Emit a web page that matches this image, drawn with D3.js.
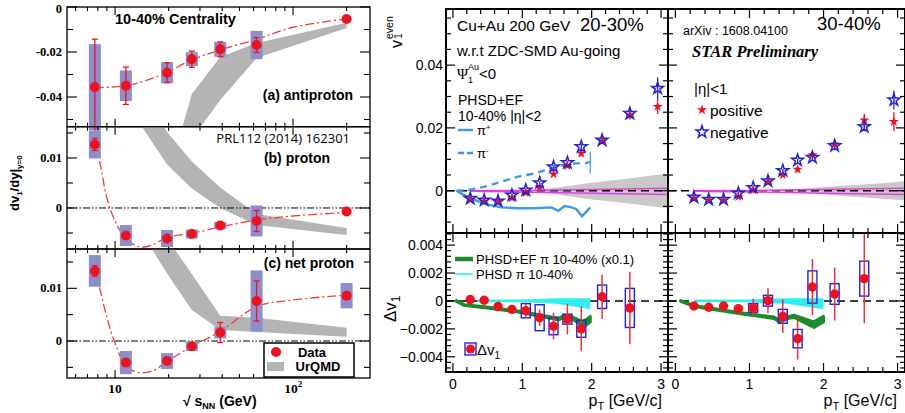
<!DOCTYPE html>
<html lang="en">
<head>
<meta charset="UTF-8">
<title>Directed flow: dv1/dy vs energy and v1 even in Cu+Au</title>
<script src="https://cdnjs.cloudflare.com/ajax/libs/d3/7.8.5/d3.min.js"></script>
<style>
  body { margin: 0; background: #fff; }
  svg { display: block; font-family: 'Liberation Sans', Arial, sans-serif; }
</style>
</head>
<body>
<svg id="chart" width="905" height="413"></svg>
<script>
// ---------- left figure: dv1/dy|y=0 vs sqrt(sNN)
const energies = [7.7, 11.5, 19.6, 27, 39, 62.4, 200];

const antiprotonVal  = [-0.0356, -0.0350, -0.0292, -0.0232, -0.0188, -0.0169, -0.0053];
const antiprotonStat = [0.0213, 0.0083, 0.0044, 0.0036, 0.0033, 0.0033, 0.0004];
const antiprotonSys  = [0.0191, 0.0068, 0.0047, 0.0031, 0.0033, 0.0063, 0];

const protonVal  = [0.0127, -0.0055, -0.0061, -0.0052, -0.0035, -0.0026, -0.0007];
const protonStat = [0.0012, 0.0006, 0.0005, 0.0004, 0.0004, 0.0021, 0.0002];
const protonSys  = [0.0028, 0.0021, 0.0017, 0.0009, 0.0007, 0.0031, 0];

const netProtonVal  = [0.0133, -0.0041, -0.0038, -0.0010, 0.0016, 0.0076, 0.0086];
const netProtonStat = [0.0010, 0.0007, 0.0004, 0.0003, 0.0019, 0.0038, 0.0006];
const netProtonSys  = [0.0030, 0.0022, 0.0015, 0.0009, 0.0011, 0.0058, 0.0024];

// UrQMD bands
const urqmdEnergyA = [19.6, 27, 39, 62.4, 200];
const urqmdHiA = [-0.077, -0.0387, -0.0222, -0.0160, -0.0070];
const urqmdLoA = [-0.095, -0.0587, -0.0413, -0.0227, -0.0093];
const urqmdEnergy = [11.5, 19.6, 27, 39, 62.4, 200];
const urqmdHiB = [0.030, 0.0152, 0.0093, 0.0041, -0.0012, -0.0040];
const urqmdLoB = [0.0211, 0.0087, 0.0039, 0.0000, -0.0034, -0.0054];
const urqmdHiC = [0.035, 0.0195, 0.0127, 0.0048, 0.0044, 0.0025];
const urqmdLoC = [0.0254, 0.0128, 0.0059, 0.0021, 0.0017, 0.0008];

// dashed fit curves
const fitEnergy = [7.7, 8.24, 8.98, 10, 11.6, 13.8, 16.4, 19.5, 26.8, 38.9, 62.4, 100, 200];
const fitA = [-0.0357, -0.0357, -0.0357, -0.0355, -0.0350, -0.0335, -0.0315, -0.0292, -0.0236, -0.0191, -0.0144, -0.0090, -0.0053];
const fitB = [0.0127, 0.0089, 0.0021, -0.0026, -0.0063, -0.0078, -0.0073, -0.0059, -0.0051, -0.0038, -0.0024, -0.0016, -0.0009];
const fitC = [0.0133, 0.0097, 0.0046, -0.0004, -0.0049, -0.0060, -0.0056, -0.0039, -0.0011, 0.0018, 0.0065, 0.0078, 0.0087];

const energyTicks = [6, 7, 8, 9, 10, 20, 30, 40, 50, 60, 70, 80, 90, 100, 200];
const energyMajor = [10, 100];
const yMajorA = [0, -0.02, -0.04], yMinorA = [-0.01, -0.03, -0.05];
const yMajorB = [0.01, 0], yMinorB = [0.015, 0.005, -0.005];

// ---------- right figure: v1 even and delta v1 vs pT
const pt = [0.25, 0.45, 0.65, 0.85, 1.05, 1.25, 1.45, 1.65, 1.85, 2.15, 2.55, 2.95];
const posL = [-0.0028, -0.0033, -0.0034, -0.0023, -0.0006, 0.0011, 0.0053, 0.0080, 0.0119, 0.0159, 0.0241, 0.0268];
const negL = [-0.0025, -0.0030, -0.0033, -0.0014, 0.0002, 0.0025, 0.0076, 0.0089, 0.0140, 0.0161, 0.0246, 0.0326];
const posErrL = [0.0003, 0.0003, 0.0003, 0.0003, 0.0003, 0.0004, 0.0005, 0.0006, 0.0008, 0.0008, 0.0014, 0.0024];
const negErrL = [0.0003, 0.0003, 0.0003, 0.0003, 0.0003, 0.0004, 0.0005, 0.0006, 0.0008, 0.0008, 0.0015, 0.0035];
const posR = [-0.0024, -0.0030, -0.0030, -0.0019, 0.0002, 0.0028, 0.0050, 0.0068, 0.0114, 0.0148, 0.0225, 0.0220];
const negR = [-0.0021, -0.0028, -0.0028, -0.0008, 0.0010, 0.0031, 0.0064, 0.0097, 0.0106, 0.0143, 0.0204, 0.0289];
const posErrR = [0.0003, 0.0003, 0.0003, 0.0003, 0.0003, 0.0004, 0.0005, 0.0006, 0.0008, 0.0009, 0.0020, 0.0030];
const negErrR = [0.0003, 0.0003, 0.0003, 0.0003, 0.0003, 0.0004, 0.0005, 0.0006, 0.0008, 0.0009, 0.0015, 0.0030];

// systematic gray band and magenta reference lines around zero
const grayPt = [1.15, 1.5, 2.0, 2.5, 3.1];
const grayHiL = [0.0002, 0.0010, 0.0025, 0.0038, 0.0055];
const grayLoL = [-0.0002, -0.0012, -0.0028, -0.0040, -0.0056];
const grayPtR = [1.35, 1.8, 2.2, 2.7, 3.1];
const grayHiR = [0.0002, 0.0008, 0.0015, 0.0022, 0.0030];
const grayLoR = [-0.0002, -0.0008, -0.0015, -0.0024, -0.0030];
const pinkPt = [0.25, 1.0, 2.0, 3.1];
const pinkHi = [0.0000, 0.0001, 0.0004, 0.0008];
const pinkLo = [-0.0002, -0.0004, -0.0008, -0.0012];

// PHSD+EF pion curves (10-40%, |eta|<2)
const piPlusPt = [0.05, 0.22, 0.46, 0.70, 0.94, 1.18, 1.42, 1.52, 1.61, 1.71, 1.78, 1.86, 1.90, 1.98];
const piPlusV = [0, -0.0021, -0.0042, -0.0053, -0.0056, -0.0056, -0.0053, -0.0064, -0.0049, -0.0053, -0.0059, -0.0081, -0.0072, -0.0053];
const piMinusPt = [0.05, 0.22, 0.46, 0.70, 0.94, 1.18, 1.42, 1.61, 1.76, 1.90, 1.98];
const piMinusV = [0, 0.0002, 0.0013, 0.0029, 0.0045, 0.0055, 0.0071, 0.0082, 0.0087, 0.0087, 0.0092];

// delta v1
const dptL = [0.25, 0.45, 0.65, 0.85, 1.05, 1.25, 1.45, 1.65, 1.85, 2.15, 2.55];
const dvL = [0.0001, 0.00005, -0.0004, -0.0006, -0.0007, -0.0012, -0.0018, -0.0013, -0.0020, 0.0003, -0.0005];
const dvStatL = [0.0001, 0.0001, 0.0002, 0.0003, 0.00048, 0.0006, 0.00096, 0.0011, 0.0016, 0.0016, 0.0026];
const dvSysL = [0, 0, 0, 0, 0.00051, 0.00093, 0.00062, 0.00036, 0.0006, 0.00084, 0.0014];
const dvR = [-0.00036, -0.00045, -0.00036, -0.00055, -0.0005, 0.00002, -0.0011, -0.0027, 0.0010, 0.0005, 0.0016];
const dvStatR = [0.0001, 0.0001, 0.0002, 0.0003, 0.00066, 0.0009, 0.0012, 0.0015, 0.0020, 0.0019, 0.0032];
const dvSysR = [0, 0, 0, 0, 0.00031, 0.00039, 0.0005, 0.00066, 0.00116, 0.00074, 0.00125];

// PHSD+EF x0.1 (green) and PHSD (cyan)
const greenPtL = [0.05, 0.17, 0.46, 0.94, 1.42, 1.52, 1.61, 1.71, 1.86, 1.93, 1.98];
const greenL = [0, -0.0003, -0.00045, -0.00076, -0.0012, -0.0013, -0.0011, -0.0012, -0.0016, -0.0015, -0.0013];
const greenHwL = [0.00003, 0.00003, 0.00003, 0.00004, 0.00005, 0.00006, 0.00006, 0.00008, 0.00014, 0.0002, 0.0002];
const greenPtR = [0.07, 0.25, 0.88, 1.33, 1.42, 1.51, 1.60, 1.69, 1.87, 2.0];
const greenR = [0, -0.00036, -0.00088, -0.0012, -0.0015, -0.0012, -0.0011, -0.0013, -0.0017, -0.0013];
const greenHwR = [0.00003, 0.00003, 0.00004, 0.00005, 0.00006, 0.00006, 0.00008, 0.00012, 0.0002, 0.0002];
const cyanPtL = [0.35, 1.0, 1.5, 1.98];
const cyanHiL = [0.0001, 0.0001, 0.0002, 0.0002];
const cyanLoL = [-0.0001, -0.0001, -0.0002, -0.0006];
const cyanPtR = [0.25, 1.0, 1.5, 2.0];
const cyanHiR = [0.0001, 0.0001, 0.0002, 0.0002];
const cyanLoR = [-0.0001, -0.0001, -0.0002, -0.0006];

const ptMajor = [0, 1, 2, 3];
const ptMinor = d3.range(-0.0, 3.1, 0.2).map(d => +d.toFixed(1));
const v1Major = [0, 0.02, 0.04], v1Minor = d3.range(-0.01, 0.058, 0.005).map(d => +d.toFixed(3));
const dvMajor = [-0.004, -0.002, 0, 0.002, 0.004], dvMinor = d3.range(-0.0048, 0.0049, 0.0004).map(d => +d.toFixed(4));

const RED = "#f2101e", SYS = "#8c8fcb", GRAY = "#b4b4b4", BLUE = "#2424d6";
const svg = d3.select("#chart");

function seg(g, x1, y1, x2, y2) {
  return g.append("line").attr("x1", x1).attr("y1", y1).attr("x2", x2).attr("y2", y2);
}

// ================= LEFT FIGURE =================
const xE = d3.scaleLog().domain([5.37, 270.7]).range([67, 370]);
const L = svg.append("g");

const leftPanels = [
  { top: 7, bottom: 126.7, dom: [-0.0532, 0], val: antiprotonVal, stat: antiprotonStat, sys: antiprotonSys,
    bandE: urqmdEnergyA, hi: urqmdHiA, lo: urqmdLoA, fit: fitA, major: yMajorA, minor: yMinorA, zero: false },
  { top: 126.7, bottom: 249, dom: [-0.0082, 0.01625], val: protonVal, stat: protonStat, sys: protonSys,
    bandE: urqmdEnergy, hi: urqmdHiB, lo: urqmdLoB, fit: fitB, major: yMajorB, minor: yMinorB, zero: true },
  { top: 249, bottom: 378, dom: [-0.00702, 0.01746], val: netProtonVal, stat: netProtonStat, sys: netProtonSys,
    bandE: urqmdEnergy, hi: urqmdHiC, lo: urqmdLoC, fit: fitC, major: yMajorB, minor: yMinorB, zero: true }
];

leftPanels.forEach((p, i) => {
  const y = d3.scaleLinear().domain(p.dom).range([p.bottom, p.top]);
  const clipId = "clipL" + i;
  L.append("clipPath").attr("id", clipId).append("rect")
    .attr("x", 67).attr("y", p.top).attr("width", 303).attr("height", p.bottom - p.top);
  const cg = L.append("g").attr("clip-path", `url(#${clipId})`);

  // UrQMD band
  const band = p.bandE.map((e, k) => ({ e, hi: p.hi[k], lo: p.lo[k] }));
  cg.append("path").datum(band)
    .attr("fill", GRAY)
    .attr("d", d3.area().x(d => xE(d.e)).y0(d => y(d.lo)).y1(d => y(d.hi)));

  if (p.zero) {
    seg(cg, 67, y(0), 370, y(0)).attr("stroke", "#000").attr("stroke-width", 1)
      .attr("stroke-dasharray", "7,2,1.5,2,1.5,2");
  }

  // dashed fit
  cg.append("path").datum(fitEnergy.map((e, k) => [e, p.fit[k]]))
    .attr("fill", "none").attr("stroke", "#ee3b3b").attr("stroke-width", 1.3)
    .attr("stroke-dasharray", "9,3,2,3")
    .attr("d", d3.line().x(d => xE(d[0])).y(d => y(d[1])).curve(d3.curveCatmullRom));

  // frame
  L.append("rect").attr("x", 67).attr("y", p.top).attr("width", 303).attr("height", p.bottom - p.top)
    .attr("fill", "none").attr("stroke", "#000").attr("stroke-width", 1.3);

  // ticks
  const tg = L.append("g").attr("stroke", "#000").attr("stroke-width", 1.1);
  energyTicks.forEach(e => {
    const len = energyMajor.includes(e) ? 8 : 4;
    seg(tg, xE(e), p.bottom, xE(e), p.bottom - len);
    seg(tg, xE(e), p.top, xE(e), p.top + len);
  });
  p.major.forEach(v => { seg(tg, 67, y(v), 77, y(v)); seg(tg, 370, y(v), 360, y(v)); });
  p.minor.filter(v => v > p.dom[0] && v < p.dom[1])
    .forEach(v => { seg(tg, 67, y(v), 73, y(v)); seg(tg, 370, y(v), 364, y(v)); });
  p.major.forEach(v => {
    L.append("text").attr("x", 62).attr("y", y(v) + (v === 0 && i === 0 ? 6 : 4))
      .attr("text-anchor", "end").attr("font-family", "'Liberation Serif', 'Times New Roman', serif")
      .attr("font-weight", "bold").attr("font-size", 12.5)
      .text(v === 0 ? "0" : String(v));
  });

  // data: systematics, stat errors, points
  const dg = L.append("g");
  energies.forEach((e, k) => {
    const cx = xE(e), cy = y(p.val[k]);
    if (p.sys[k] > 0) {
      dg.append("rect").attr("x", cx - 6).attr("y", y(p.val[k] + p.sys[k])).attr("width", 12)
        .attr("height", y(p.val[k] - p.sys[k]) - y(p.val[k] + p.sys[k])).attr("fill", SYS);
    }
    const y1 = y(p.val[k] + p.stat[k]), y2 = y(p.val[k] - p.stat[k]);
    seg(dg, cx, y1, cx, y2).attr("stroke", RED).attr("stroke-width", 1.3);
    seg(dg, cx - 3, y1, cx + 3, y1).attr("stroke", RED).attr("stroke-width", 1.3);
    seg(dg, cx - 3, y2, cx + 3, y2).attr("stroke", RED).attr("stroke-width", 1.3);
    dg.append("circle").attr("cx", cx).attr("cy", cy).attr("r", 5).attr("fill", RED);
  });
});

// panel labels
const bold = (x, y, t, anchor, size) => L.append("text").attr("x", x).attr("y", y)
  .attr("text-anchor", anchor || "start").attr("font-weight", "bold").attr("font-size", size || 13).text(t);
bold(115, 24, "10-40% Centrality", "start", 14.5);
bold(353, 100, "(a) antiproton", "end", 14);
L.append("text").attr("x", 350).attr("y", 143).attr("text-anchor", "end").attr("font-size", 13)
  .attr("font-family", "'Open Sans', 'Liberation Sans', sans-serif").text("PRL112 (2014) 162301");
bold(330, 163, "(b) proton", "end", 14);
bold(354, 268, "(c) net proton", "end", 14);

// legend in (c)
L.append("rect").attr("x", 264).attr("y", 343).attr("width", 90).attr("height", 34)
  .attr("fill", "#fff").attr("stroke", "#000").attr("stroke-width", 1.5);
L.append("circle").attr("cx", 276).attr("cy", 352).attr("r", 5).attr("fill", RED);
L.append("rect").attr("x", 267).attr("y", 362).attr("width", 17).attr("height", 9).attr("fill", GRAY);
bold(312, 357, "Data", "middle", 13);
bold(318, 371, "UrQMD", "middle", 13);

// x-axis labels
const serifB = (x, y, t, size) => L.append("text").attr("x", x).attr("y", y).attr("text-anchor", "middle")
  .attr("font-family", "'Liberation Serif', 'Times New Roman', serif").attr("font-weight", "bold")
  .attr("font-size", size || 13.5).text(t);
serifB(xE(10), 393, "10");
serifB(xE(100) - 2, 393, "10");
serifB(xE(100) + 7, 387, "2", 9);
const xt = L.append("text").attr("x", 183).attr("y", 406).attr("font-weight", "bold").attr("font-size", 14);
xt.append("tspan").text("\u221A s");
xt.append("tspan").attr("font-size", 9).attr("dy", 3).text("NN");
xt.append("tspan").attr("dy", -3).text(" (GeV)");

// y-axis label
const yl = L.append("text").attr("transform", "translate(19,211) rotate(-90)")
  .attr("font-weight", "bold").attr("font-size", 13);
yl.append("tspan").text("dv");
yl.append("tspan").attr("font-size", 8).attr("dy", 3).text("1");
yl.append("tspan").attr("dy", -3).text("/dy|");
yl.append("tspan").attr("font-size", 8).attr("dy", 3).text("y=0");

// ================= RIGHT FIGURE =================
const xPtL = d3.scaleLinear().domain([-0.1, 3.1]).range([446, 668]);
const xPtR = d3.scaleLinear().domain([-0.1, 3.1]).range([668, 905]);
const yV1 = d3.scaleLinear().domain([-0.01347, 0.05787]).range([233, 9]);
const yDv = d3.scaleLinear().domain([-0.00509, 0.00487]).range([372, 233]);
const R = svg.append("g");
const star = d3.symbol().type(d3.symbolStar);

function frameAndTicks(xs, ys, yMaj, yMin) {
  const [x0, x1] = xs.range(), [y0, y1] = ys.range();
  const tg = R.append("g").attr("stroke", "#000").attr("stroke-width", 1.2);
  ptMajor.forEach(v => { seg(tg, xs(v), y0, xs(v), y0 - 9); seg(tg, xs(v), y1, xs(v), y1 + 9); });
  ptMinor.filter(v => !ptMajor.includes(v)).forEach(v => {
    seg(tg, xs(v), y0, xs(v), y0 - 5); seg(tg, xs(v), y1, xs(v), y1 + 5);
  });
  yMaj.forEach(v => { seg(tg, x0, ys(v), x0 + 9, ys(v)); seg(tg, x1, ys(v), x1 - 9, ys(v)); });
  yMin.filter(v => !yMaj.some(m => Math.abs(m - v) < 1e-9))
    .forEach(v => { seg(tg, x0, ys(v), x0 + 5, ys(v)); seg(tg, x1, ys(v), x1 - 5, ys(v)); });
  R.append("rect").attr("x", x0).attr("y", y1).attr("width", x1 - x0).attr("height", y0 - y1)
    .attr("fill", "none").attr("stroke", "#000").attr("stroke-width", 2);
}

function clipFor(xs, ys, id) {
  const [x0, x1] = xs.range(), [y0, y1] = ys.range();
  R.append("clipPath").attr("id", id).append("rect")
    .attr("x", x0).attr("y", y1).attr("width", x1 - x0).attr("height", y0 - y1);
  return R.append("g").attr("clip-path", `url(#${id})`);
}

function topPanel(xs, id, pos, neg, posErr, negErr, gPt, gHi, gLo, models) {
  const g = clipFor(xs, yV1, id);
  g.append("path").datum(gPt.map((p, k) => [p, gHi[k], gLo[k]])).attr("fill", "#c9c9c9")
    .attr("d", d3.area().x(d => xs(d[0])).y0(d => yV1(d[2])).y1(d => yV1(d[1])));
  seg(g, xs.range()[0], yV1(0), xs.range()[1], yV1(0)).attr("stroke", "#000").attr("stroke-width", 1.6)
    .attr("stroke-dasharray", "8,5");
  [pinkHi, pinkLo].forEach(arr => g.append("path").datum(pinkPt.map((p, k) => [p, arr[k]]))
    .attr("fill", "none").attr("stroke", "#e23fe0").attr("stroke-width", 1.4)
    .attr("d", d3.line().x(d => xs(d[0])).y(d => yV1(d[1]))));
  if (models) {
    g.append("path").datum(piPlusPt.map((p, k) => [p, piPlusV[k]])).attr("fill", "none")
      .attr("stroke", "#3c9be2").attr("stroke-width", 2.4)
      .attr("d", d3.line().x(d => xs(d[0])).y(d => yV1(d[1])));
    g.append("path").datum(piMinusPt.map((p, k) => [p, piMinusV[k]])).attr("fill", "none")
      .attr("stroke", "#3c9be2").attr("stroke-width", 2.4).attr("stroke-dasharray", "7,5")
      .attr("d", d3.line().x(d => xs(d[0])).y(d => yV1(d[1])));
    const last = piMinusPt.length - 1;
    seg(g, xs(piMinusPt[last]), yV1(piMinusV[last] + 0.0032), xs(piMinusPt[last]), yV1(piMinusV[last] - 0.0037))
      .attr("stroke", "#3c9be2").attr("stroke-width", 1.2);
  }
  const dg = R.append("g");
  pt.forEach((p, k) => {
    seg(dg, xs(p), yV1(neg[k] + negErr[k]), xs(p), yV1(neg[k] - negErr[k])).attr("stroke", BLUE).attr("stroke-width", 1.3);
    seg(dg, xs(p), yV1(pos[k] + posErr[k]), xs(p), yV1(pos[k] - posErr[k])).attr("stroke", RED).attr("stroke-width", 1.3);
  });
  pt.forEach((p, k) => {
    dg.append("path").attr("d", star.size(32)()).attr("transform", `translate(${xs(p)},${yV1(pos[k])})`)
      .attr("fill", RED);
  });
  pt.forEach((p, k) => {
    dg.append("path").attr("d", star.size(44)()).attr("transform", `translate(${xs(p)},${yV1(neg[k])})`)
      .attr("fill", "none").attr("stroke", BLUE).attr("stroke-width", 1.5);
  });
  frameAndTicks(xs, yV1, v1Major, v1Minor);
}

function bottomPanel(xs, id, dv, stat, sys, gPt, gV, gHw, cPt, cHi, cLo) {
  const g = clipFor(xs, yDv, id);
  seg(g, xs.range()[0], yDv(0), xs.range()[1], yDv(0)).attr("stroke", "#000").attr("stroke-width", 1.6)
    .attr("stroke-dasharray", "8,5");
  g.append("path").datum(cPt.map((p, k) => [p, cHi[k], cLo[k]])).attr("fill", "#2ff0f0")
    .attr("d", d3.area().x(d => xs(d[0])).y0(d => yDv(d[2])).y1(d => yDv(d[1])));
  g.append("path").datum(gPt.map((p, k) => [p, gV[k], gHw[k]])).attr("fill", "#1a8c2c")
    .attr("stroke", "#1a8c2c").attr("stroke-width", 3).attr("stroke-linejoin", "round")
    .attr("d", d3.area().x(d => xs(d[0])).y0(d => yDv(d[1] - d[2])).y1(d => yDv(d[1] + d[2])));
  const dg = R.append("g");
  dptL.forEach((p, k) => {
    if (sys[k] > 0) {
      dg.append("rect").attr("x", xs(p) - 4.5).attr("y", yDv(dv[k] + sys[k])).attr("width", 9)
        .attr("height", yDv(dv[k] - sys[k]) - yDv(dv[k] + sys[k]))
        .attr("fill", "none").attr("stroke", BLUE).attr("stroke-width", 1.4);
    }
    seg(dg, xs(p), yDv(dv[k] + stat[k]), xs(p), yDv(dv[k] - stat[k])).attr("stroke", "#e8323f").attr("stroke-width", 1.5);
    dg.append("circle").attr("cx", xs(p)).attr("cy", yDv(dv[k])).attr("r", 4.7).attr("fill", RED);
  });
  frameAndTicks(xs, yDv, dvMajor, dvMinor);
}

topPanel(xPtL, "clipTL", posL, negL, posErrL, negErrL, grayPt, grayHiL, grayLoL, true);
topPanel(xPtR, "clipTR", posR, negR, posErrR, negErrR, grayPtR, grayHiR, grayLoR, false);
bottomPanel(xPtL, "clipBL", dvL, dvStatL, dvSysL, greenPtL, greenL, greenHwL, cyanPtL, cyanHiL, cyanLoL);
bottomPanel(xPtR, "clipBR", dvR, dvStatR, dvSysR, greenPtR, greenR, greenHwR, cyanPtR, cyanHiR, cyanLoR);

// tick labels
const txt = (x, y, t, size, anchor) => R.append("text").attr("x", x).attr("y", y)
  .attr("text-anchor", anchor || "start").attr("font-size", size || 14).text(t);
v1Major.forEach(v => txt(443, yV1(v) + 5, v === 0 ? "0" : v.toFixed(2), 14, "end"));
dvMajor.forEach(v => txt(443, yDv(v) + 5, v === 0 ? "0" : (v < 0 ? "\u2212" : "") + Math.abs(v).toFixed(3), 14, "end"));
ptMajor.forEach(v => { txt(xPtL(v), 389, String(v), 14, "middle"); txt(xPtR(v), 389, String(v), 14, "middle"); });

// axis titles
[[662], [897]].forEach(([xe]) => {
  const t = R.append("text").attr("x", xe).attr("y", 406).attr("text-anchor", "end").attr("font-size", 16);
  t.append("tspan").text("p");
  t.append("tspan").attr("font-size", 11).attr("dy", 4).text("T");
  t.append("tspan").attr("dy", -4).text(" [GeV/c]");
});
const v1t = R.append("g").attr("transform", "translate(402,48) rotate(-90)");
v1t.append("text").attr("font-size", 16).text("v");
v1t.append("text").attr("x", 9).attr("y", -9).attr("font-size", 10.5).text("even");
v1t.append("text").attr("x", 9).attr("y", 0).attr("font-size", 10.5).text("1");
const dvt = R.append("text").attr("transform", "translate(396,322) rotate(-90)").attr("font-size", 17);
dvt.append("tspan").text("\u0394v");
dvt.append("tspan").attr("font-size", 12).attr("dy", 4).text("1");

// annotations top-left panel
txt(457, 31, "Cu+Au 200 GeV", 15.5);
txt(580, 31, "20-30%", 18.5);
txt(457, 56, "w.r.t ZDC-SMD Au-going", 15);
const psi = R.append("text").attr("x", 457).attr("y", 79).attr("font-size", 15);
psi.append("tspan").attr("font-family", "'Liberation Serif', serif").text("\u03A8");
psi.append("tspan").attr("font-size", 9).attr("dy", 4).text("1");
psi.append("tspan").attr("font-size", 9).attr("dx", -5).attr("dy", -13).text("Au");
psi.append("tspan").attr("dy", 9).text("<0");
txt(458, 105, "PHSD+EF", 14);
txt(458, 121, "10-40% |\u03B7|<2", 14);
seg(R, 458, 130, 473, 130).attr("stroke", "#3c9be2").attr("stroke-width", 2.4);
seg(R, 458, 153, 473, 153).attr("stroke", "#3c9be2").attr("stroke-width", 2.4).attr("stroke-dasharray", "6,3");
const pp = txt(477, 135, "\u03C0", 13); pp.append("tspan").attr("font-size", 7.5).attr("dy", -5).text("+");
const pm = txt(477, 158, "\u03C0", 13); pm.append("tspan").attr("font-size", 7.5).attr("dy", -5).text("-");

// annotations top-right panel
txt(683, 35, "arXiv : 1608.04100", 12.5);
txt(817, 30, "30-40%", 18.5);
R.append("text").attr("x", 692).attr("y", 57).attr("font-family", "'Liberation Serif', 'Times New Roman', serif")
  .attr("font-weight", "bold").attr("font-style", "italic").attr("font-size", 16.5).text("STAR Preliminary");
txt(694, 94, "|\u03B7|<1", 15);
R.append("path").attr("d", star.size(32)()).attr("transform", "translate(702,110)").attr("fill", RED);
R.append("path").attr("d", star.size(44)()).attr("transform", "translate(702,132)")
  .attr("fill", "none").attr("stroke", BLUE).attr("stroke-width", 1.5);
txt(710, 116, "positive", 15.5);
txt(710, 138, "negative", 15.5);

// lower-left legend
seg(R, 455, 259, 473, 259).attr("stroke", "#1a8c2c").attr("stroke-width", 4.5);
txt(476, 264, "PHSD+EF \u03C0 10-40% (x0.1)", 13);
seg(R, 455, 274, 473, 274).attr("stroke", "#2ff0f0").attr("stroke-width", 1.6);
txt(476, 279, "PHSD \u03C0 10-40%", 13);
R.append("rect").attr("x", 465).attr("y", 343).attr("width", 11).attr("height", 12)
  .attr("fill", "none").attr("stroke", BLUE).attr("stroke-width", 1.4);
R.append("circle").attr("cx", 470.5).attr("cy", 349).attr("r", 4.5).attr("fill", RED);
const dl = txt(477, 355, "\u0394v", 15);
dl.append("tspan").attr("font-size", 10).attr("dy", 4).text("1");
</script>
</body>
</html>
